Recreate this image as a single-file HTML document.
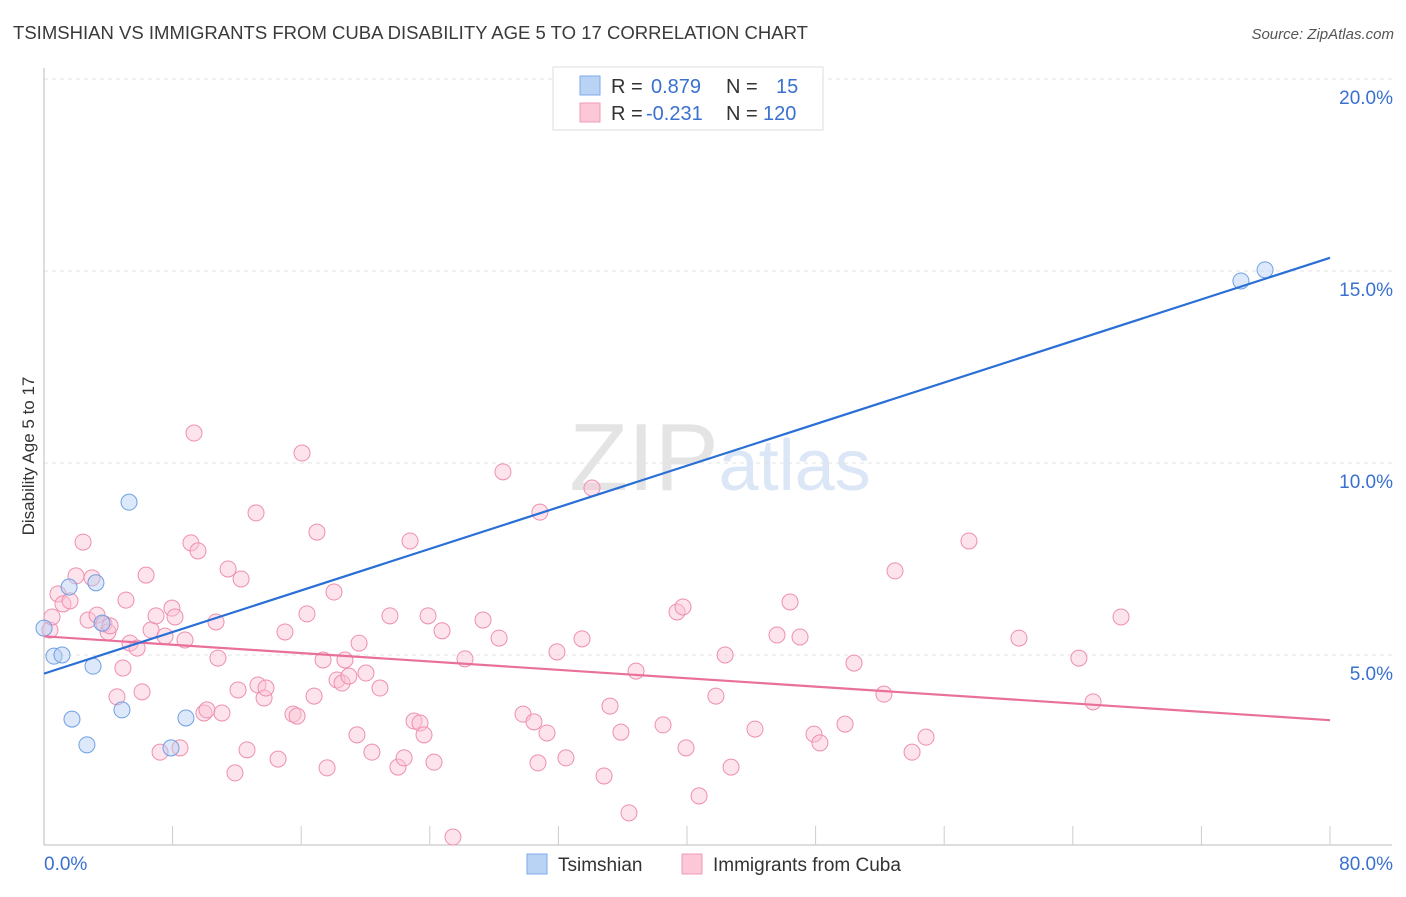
<!DOCTYPE html>
<html><head><meta charset="utf-8"><style>
body{margin:0;background:#fff;font-family:"Liberation Sans",sans-serif;}
svg text{font-family:"Liberation Sans",sans-serif;}
</style></head><body>
<svg id="chart" width="1406" height="892" xmlns="http://www.w3.org/2000/svg">
<text x="13" y="39" font-size="18" fill="#3a3a3a" textLength="795" lengthAdjust="spacingAndGlyphs">TSIMSHIAN VS IMMIGRANTS FROM CUBA DISABILITY AGE 5 TO 17 CORRELATION CHART</text>
<text x="1394" y="39" font-size="15" fill="#555" font-style="italic" text-anchor="end">Source: ZipAtlas.com</text>
<text x="720" y="490" font-size="96" text-anchor="middle" fill="#e4e4e4" font-family="Liberation Serif"><tspan>ZIP</tspan><tspan fill="#dbe6f6" font-family="Liberation Sans" font-size="72">atlas</tspan></text>
<g id="grid"></g>
<g id="axes"></g>
<g id="pts"></g>
<g id="lines"></g>
<text transform="translate(34,456) rotate(-90)" font-size="17" fill="#333" text-anchor="middle">Disability Age 5 to 17</text>
<g>
<rect x="553" y="67" width="270" height="63" fill="#fff" stroke="#ddd"/>
<rect x="580" y="76" width="20" height="19" fill="#b9d3f5" stroke="#7eaaea"/>
<rect x="580" y="103" width="20" height="19" fill="#fcc8d8" stroke="#f09ab5"/>
<text x="611" y="93" font-size="20" fill="#333">R =<tspan x="651" fill="#3a70d0">0.879</tspan><tspan x="726">N =</tspan><tspan x="776" fill="#3a70d0">15</tspan></text>
<text x="611" y="120" font-size="20" fill="#333">R =<tspan x="646" fill="#3a70d0">-0.231</tspan><tspan x="726">N =</tspan><tspan x="763" fill="#3a70d0">120</tspan></text>
</g>
<g>
<rect x="527" y="854" width="20" height="20" fill="#b9d3f5" stroke="#7eaaea"/>
<text x="558" y="871" font-size="19" fill="#333">Tsimshian</text>
<rect x="682" y="854" width="20" height="20" fill="#fcc8d8" stroke="#f09ab5"/>
<text x="713" y="871" font-size="19" fill="#333">Immigrants from Cuba</text>
</g>
</svg>
<script>
const yTicks=[5,10,15,20];
const xTickLabels=["0.0%","80.0%"];
const blueX=[0,0.62,1.12,1.56,3.23,3.05,1.74,2.67,4.85,5.29,7.90,8.83,3.61,74.46,75.96];
const blueY=[5.70,4.97,5.00,6.77,6.88,4.71,3.33,2.66,3.57,8.98,2.58,3.36,5.83,14.74,15.03];
const pinkX=[0.37,0.50,0.87,1.18,1.62,1.99,2.43,2.74,2.99,3.30,3.73,3.98,4.11,4.54,4.91,5.10,5.35,5.79,6.10,6.35,6.66,6.97,7.22,7.53,7.96,8.15,8.46,8.77,9.14,9.33,9.58,9.95,10.14,10.70,10.82,11.07,11.45,11.88,12.07,12.26,12.63,13.19,13.31,13.69,13.81,14.56,14.99,15.49,15.74,16.05,16.36,16.80,16.98,17.36,17.61,18.04,18.23,18.54,18.72,18.97,19.47,19.60,20.03,20.40,20.90,21.52,22.02,22.40,22.77,23.02,23.39,23.64,23.89,24.26,24.76,25.44,26.19,27.31,28.31,28.55,29.80,30.48,30.73,30.85,31.29,31.91,32.47,33.47,34.09,34.84,35.21,35.89,36.39,36.83,38.51,39.38,39.75,39.94,40.75,41.80,42.37,42.74,44.23,45.60,46.41,47.03,47.90,48.27,49.83,50.39,52.25,52.94,54.00,54.87,57.54,60.65,64.38,65.26,67.00];
const pinkY=[5.65,5.99,6.59,6.33,6.41,7.06,7.94,5.91,7.01,6.04,5.81,5.60,5.76,3.91,4.66,6.43,5.31,5.18,4.04,7.08,5.65,6.02,2.47,5.49,6.22,5.99,2.58,5.39,7.92,10.78,7.71,3.49,3.57,5.86,4.92,3.49,7.24,1.93,4.09,6.98,2.53,8.70,4.22,3.88,4.14,2.29,5.60,3.46,3.41,10.26,6.07,3.93,8.20,4.87,2.06,6.64,4.35,4.27,4.87,4.45,2.92,5.31,4.53,2.47,4.14,6.02,2.08,2.32,7.97,3.28,3.23,2.92,6.02,2.21,5.63,0.26,4.90,5.91,5.44,9.77,3.46,3.26,2.19,8.72,2.97,5.08,2.32,5.42,9.35,1.85,3.67,2.99,0.89,4.58,3.18,6.12,6.25,2.58,1.33,3.93,5.00,2.08,3.07,5.52,6.38,5.47,2.94,2.71,3.20,4.79,3.98,7.19,2.47,2.86,7.97,5.44,4.92,3.78,5.99];
const X0=44,X1=1330,YB=847,PX=38.4;
const sx=v=>X0+(X1-X0)*v/80, sy=v=>YB-v*PX;
const NS="http://www.w3.org/2000/svg";
function mk(tag,attrs,parent){const e=document.createElementNS(NS,tag);for(const k in attrs)e.setAttribute(k,attrs[k]);parent.appendChild(e);return e;}
const grid=document.getElementById('grid'),axes=document.getElementById('axes'),pts=document.getElementById('pts'),lines=document.getElementById('lines');
yTicks.forEach(t=>{
 const l=mk('line',{x1:44,x2:1392,y1:sy(t),y2:sy(t),stroke:'#e3e3e3','stroke-dasharray':'4,4'},grid);
 
 
 const tx=mk('text',{x:1393,y:sy(t)+25,'font-size':19,fill:'#3a70d0','text-anchor':'end'},grid);
 tx.textContent=t.toFixed(1)+'%';
 
 
});
const ya=mk('line',{x1:44,x2:44,y1:68,y2:845,stroke:'#bbb'},axes);


const xa=mk('line',{x1:44,x2:1392,y1:845,y2:845,stroke:'#bbb'},axes);


for(let k=1;k<=10;k++){const v=k*8;const t=mk('line',{x1:sx(v),x2:sx(v),y1:826,y2:845,stroke:'#ccc'},axes);
 
 }
const xl0=mk('text',{x:44,y:870,'font-size':19,fill:'#3a70d0'},axes);xl0.textContent=xTickLabels[0];


const xl1=mk('text',{x:1393,y:870,'font-size':19,fill:'#3a70d0','text-anchor':'end'},axes);xl1.textContent=xTickLabels[1];


function drawPts(xs,ys,fill,stroke,name){xs.forEach((x,i)=>{const c=mk('circle',{cx:sx(x),cy:sy(ys[i]),r:8,fill:fill,'fill-opacity':0.45,stroke:stroke,'stroke-width':1},pts);
 
 });}
drawPts(pinkX,pinkY,'#fbc3d4','#ee8fae','point-cuba');
drawPts(blueX,blueY,'#b3cff3','#6f9fe2','point-tsimshian');
function fit(xs,ys){const n=xs.length;let mx=0,my=0;xs.forEach((x,i)=>{mx+=x;my+=ys[i];});mx/=n;my/=n;let sxy=0,sxx=0;xs.forEach((x,i)=>{sxy+=(x-mx)*(ys[i]-my);sxx+=(x-mx)*(x-mx);});const b=sxy/sxx;return [my-b*mx,b];}
function drawFit(xs,ys,col,name){const [a,b]=fit(xs,ys);const l=mk('line',{x1:sx(0),y1:sy(a),x2:sx(80),y2:sy(a+b*80),stroke:col,'stroke-width':2.2},lines);
 
 }
drawFit(pinkX,pinkY,'#e8709a','trend-line-cuba');
drawFit(blueX,blueY,'#2a6fd6','trend-line-tsimshian');
</script>
</body></html>
